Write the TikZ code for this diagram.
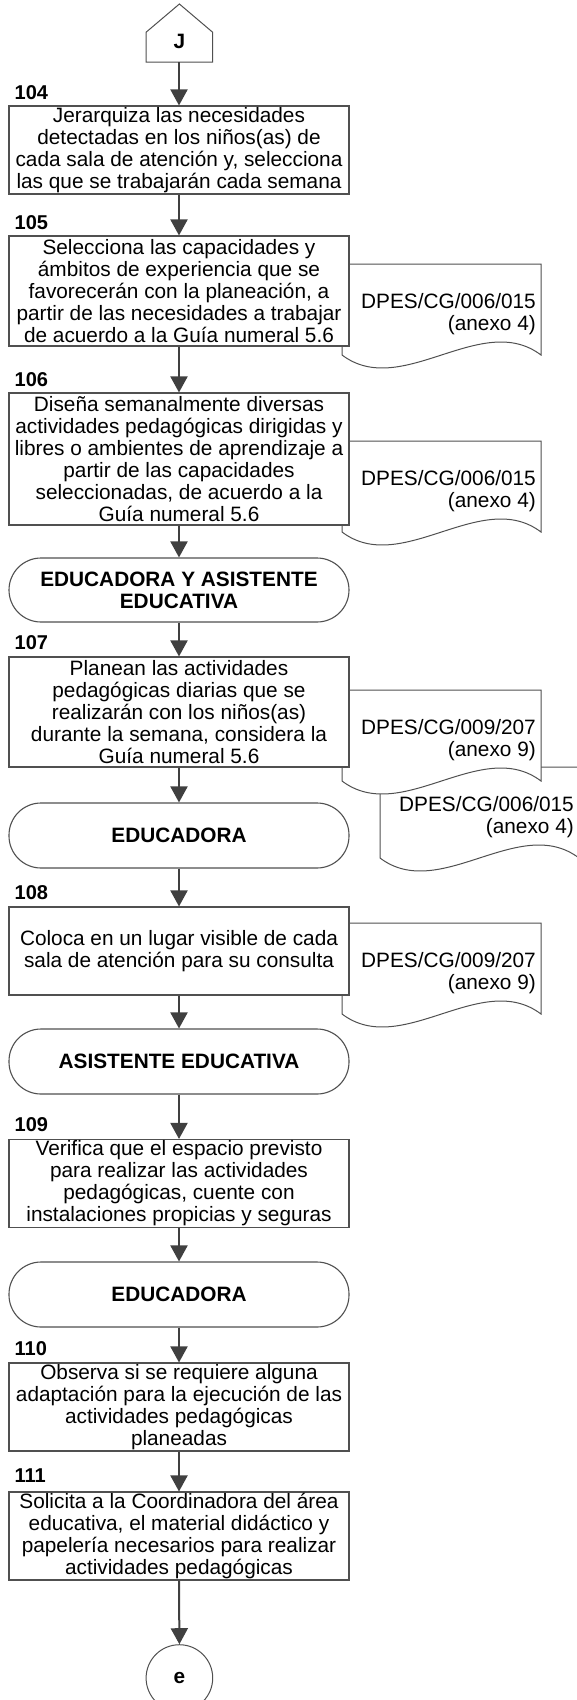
\documentclass[tikz,border=0pt]{standalone}
\usepackage{fontspec}
\setmainfont{Liberation Sans}
\usetikzlibrary{arrows.meta}
\definecolor{linec}{HTML}{505050}
\definecolor{arrc}{HTML}{404040}
\tikzset{
  box/.style={draw=linec, line width=1.1pt, fill=white, minimum width=340pt,
    inner xsep=0pt, inner ysep=0pt, align=center,
    font=\fontsize{20.8}{22}\selectfont},
  term/.style={box, rounded corners=32pt, font=\bfseries\fontsize{20.8}{22}\selectfont},
  lbl/.style={anchor=west, inner sep=0pt, font=\bfseries\fontsize{20}{22}\selectfont},
  docst/.style={draw=linec, line width=1pt, fill=white},
  doctext/.style={anchor=east, inner sep=0pt, align=right, font=\fontsize{20.8}{22}\selectfont},
  arr/.style={draw=arrc, line width=2pt, -{Triangle[length=16pt,width=17pt]}, fill=arrc},
}
\newcommand{\mydoc}[4]{%
  \draw[docst] (#1,#2) -- ({#1+199},#2) -- ({#1+199},{#2+91})
    .. controls ({#1+139.3},{#2+46}) and ({#1+59.7},{#2+136}) .. (#1,{#2+91}) -- cycle;
  \node[doctext] (#3) at ({#1+194},{#2+50}) {#4};}
\begin{document}
\begin{tikzpicture}[x=1pt,y=-1pt]
\useasboundingbox (0,0) rectangle (576,1700);
% off-page connector J
\draw[draw=linec, line width=1pt, fill=white] (146,62) -- (146,32.3) -- (179.4,4) -- (212.7,32.3) -- (212.7,62) -- cycle;
\node[inner sep=0pt, font=\bfseries\fontsize{20.8}{22}\selectfont] (J) at (179.4,41.7) {J};
\coordinate (Jb) at (179,62);

% documents (drawn before boxes)
\mydoc{342}{264}{d105}{DPES/CG/006/015\\(anexo 4)}
\mydoc{342}{441}{d106}{DPES/CG/006/015\\(anexo 4)}
\mydoc{380}{767}{d107b}{DPES/CG/006/015\\(anexo 4)}
\mydoc{342}{690}{d107a}{DPES/CG/009/207\\(anexo 9)}
\mydoc{342}{923}{d108}{DPES/CG/009/207\\(anexo 9)}

% process boxes and terminals
\node[box, minimum height=88pt] (b104) at (179,150) {Jerarquiza las necesidades\\detectadas en los niños(as) de\\cada sala de atención y, selecciona\\las que se trabajarán cada semana};
\node[box, minimum height=110pt] (b105) at (179,291) {Selecciona las capacidades y\\ámbitos de experiencia que se\\favorecerán con la planeación, a\\partir de las necesidades a trabajar\\de acuerdo a la Guía numeral 5.6};
\node[box, minimum height=132pt] (b106) at (179,459) {Diseña semanalmente diversas\\actividades pedagógicas dirigidas y\\libres o ambientes de aprendizaje a\\partir de las capacidades\\seleccionadas, de acuerdo a la\\Guía numeral 5.6};
\node[term, minimum height=64pt] (t1) at (179,590) {EDUCADORA Y ASISTENTE\\EDUCATIVA};
\node[box, minimum height=110pt] (b107) at (179,712) {Planean las actividades\\pedagógicas diarias que se\\realizarán con los niños(as)\\durante la semana, considera la\\Guía numeral 5.6};
\node[term, minimum height=65pt] (t2) at (179,835.5) {EDUCADORA};
\node[box, minimum height=88pt] (b108) at (179,951) {Coloca en un lugar visible de cada\\sala de atención para su consulta};
\node[term, minimum height=65pt] (t3) at (179,1061.5) {ASISTENTE EDUCATIVA};
\node[box, minimum height=88pt] (b109) at (179,1183.5) {Verifica que el espacio previsto\\para realizar las actividades\\pedagógicas, cuente con\\instalaciones propicias y seguras};
\node[term, minimum height=65pt] (t4) at (179,1294.5) {EDUCADORA};
\node[box, minimum height=88pt] (b110) at (179,1407) {Observa si se requiere alguna\\adaptación para la ejecución de las\\actividades pedagógicas\\planeadas};
\node[box, minimum height=88pt] (b111) at (179,1536) {Solicita a la Coordinadora del área\\educativa, el material didáctico y\\papelería necesarios para realizar\\actividades pedagógicas};
\node[circle, draw=linec, line width=1pt, fill=white, minimum size=66.6pt, inner sep=0pt, font=\bfseries\fontsize{20.8}{22}\selectfont] (e) at (179.4,1678) {e};

% step numbers
\node[lbl] (l104) at (14.5,93) {104};
\node[lbl] (l105) at (14.5,223) {105};
\node[lbl] (l106) at (14.5,380) {106};
\node[lbl] (l107) at (14.5,643) {107};
\node[lbl] (l108) at (14.5,893) {108};
\node[lbl] (l109) at (14.5,1125) {109};
\node[lbl] (l110) at (14.5,1349) {110};
\node[lbl] (l111) at (14.5,1476) {111};

% connectors
\draw[arr] (Jb) -- (b104.north);
\draw[arr] (b104.south) -- (b105.north);
\draw[arr] (b105.south) -- (b106.north);
\draw[arr] (b106.south) -- (t1.north);
\draw[arr] (t1.south) -- (b107.north);
\draw[arr] (b107.south) -- (t2.north);
\draw[arr] (t2.south) -- (b108.north);
\draw[arr] (b108.south) -- (t3.north);
\draw[arr] (t3.south) -- (b109.north);
\draw[arr] (b109.south) -- (t4.north);
\draw[arr] (t4.south) -- (b110.north);
\draw[arr] (b110.south) -- (b111.north);
\draw[arr] (b111.south) -- (e.north);
\end{tikzpicture}
\end{document}
